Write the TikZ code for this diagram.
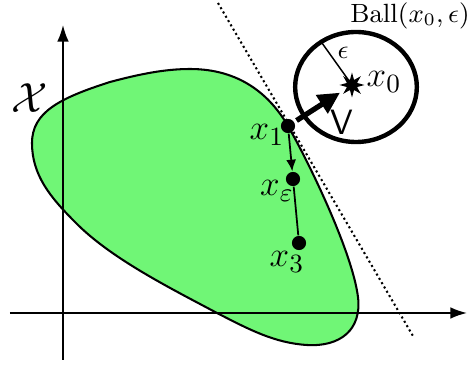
\documentclass[tikz,border=0pt]{standalone}
\usepackage{amsmath,amssymb}
\usepackage{xcolor}
\usetikzlibrary{shapes, arrows.meta, positioning, calc}
\definecolor{blobgreen}{RGB}{112,246,118}

\begin{document}
\begin{tikzpicture}[x=0.12mm, y=-0.12mm, font=\fontsize{13}{15}\selectfont,
	dot/.style={circle, fill=black, inner sep=0pt, minimum size=1.7mm},
	axis/.style={line width=0.6pt, -{Latex[length=2mm, width=1.4mm]}}]
	\useasboundingbox (0,0) rectangle (467,365);
	% axes
	\coordinate (xl) at (10,313);
	\coordinate (xr) at (467,313);
	\coordinate (yb) at (63,360);
	\coordinate (yt) at (63,25);
	% the set X
	\filldraw[fill=blobgreen, line width=0.7pt] (32,143)
		.. controls (32,112) and (60,98) .. (110,82)
		.. controls (140,74) and (165,69) .. (190,69)
		.. controls (240,69) and (270,95) .. (288,126)
		.. controls (306,157) and (352,250) .. (358,297)
		.. controls (362,330) and (340,347) .. (307,345)
		.. controls (275,343) and (250,330) .. (217,313)
		.. controls (170,288) and (110,258) .. (75,222)
		.. controls (50,197) and (32,175) .. cycle;
	\draw[axis] (xl) -- (xr);
	\draw[axis] (yb) -- (yt);
	\node (setX) at (30,98) {\Large$\mathcal{X}$};
	% supporting line
	\coordinate (ltop) at (218,3);
	\coordinate (lbot) at (413,336);
	\draw[densely dotted, line width=0.7pt] (ltop) -- (lbot);
	% the ball
	\node[draw, ellipse, line width=1.5pt, minimum width=14.6mm, minimum height=13.2mm, inner sep=0pt] (ball) at (356,87) {};
	\node[star, star points=8, star point ratio=2.3, fill=black, inner sep=0pt, minimum size=3mm] (x0) at (352,85) {};
	\coordinate (rim) at (322,43);
	\draw[line width=0.5pt] (x0.center) -- (rim);
	\node[font=\small] (eps) at (343,53) {$\epsilon$};
	\node (x0lab) at (384,82) {$x_0$};
	\node[font=\small] (balllab) at (410,16) {$\mathrm{Ball}(x_0,\epsilon)$};
	% iterates
	\node[dot] (x1) at (288,126) {};
	\node[dot] (xe) at (293,179) {};
	\node[dot] (x3) at (299,243) {};
	\node (x1lab) at (267,135) {$x_1$};
	\node (xelab) at (277,191) {$x_\varepsilon$};
	\node (x3lab) at (287,262) {$x_3$};
	\draw[line width=0.6pt, -{Latex[length=1.4mm, width=1.2mm]}] (x1) -- (xe);
	\draw[line width=0.6pt] (xe) -- (x3);
	\draw[line width=1.8pt, -{Triangle[length=2.6mm, width=2.5mm]}, shorten <=0.3mm, shorten >=0.7mm] (x1) -- (x0);
	\node[font=\large\sffamily] (vlab) at (342,122) {V};
\end{tikzpicture}
\end{document}
